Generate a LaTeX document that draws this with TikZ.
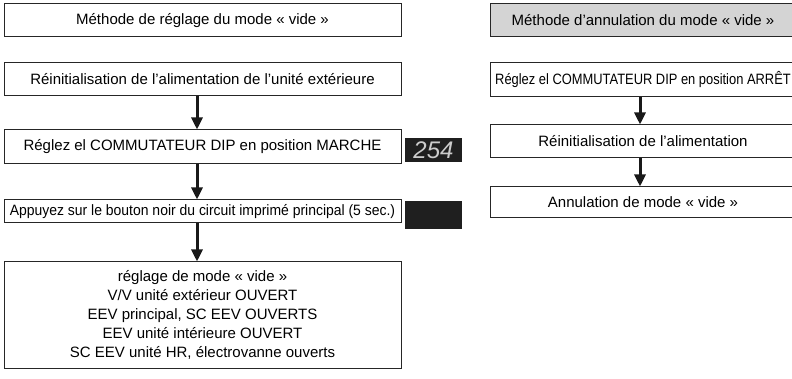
\documentclass[tikz,border=0pt]{standalone}
\usepackage{fontspec}
\setmainfont{Liberation Sans}
\usepackage{graphicx}
\usetikzlibrary{arrows.meta}

\begin{document}
\begin{tikzpicture}[x=1pt, y=-1pt,
    boite/.style={draw=black!85, line width=1pt, fill=white, minimum width=397pt, inner sep=2pt, font=\fontsize{15}{19}\selectfont},
    boited/.style={boite, minimum width=306pt},
    fleche/.style={-{Triangle[width=11pt,length=12pt]}, line width=3pt, black!90},
    ecran/.style={fill=black!88, minimum width=57pt, inner sep=0pt}]
  \useasboundingbox (0,0) rectangle (792,379);
  \clip (0,0) rectangle (792,379);
  % reglage du mode vide
  \node[boite, minimum height=33pt] (titre) at (202.5,20.5) {Méthode de réglage du mode « vide »};
  \node[boite, minimum height=33pt] (alim) at (202.5,79.5) {Réinitialisation de l’alimentation de l’unité extérieure};
  \node[boite, minimum height=34pt] (dipon) at (202.5,147) {Réglez el COMMUTATEUR DIP en position MARCHE};
  \node[boite, minimum height=23pt] (bouton) at (202.5,211.5) {\scalebox{0.93}[1]{Appuyez sur le bouton noir du circuit imprimé principal (5 sec.)}};
  \node[boite, minimum height=106pt, align=center] (mode) at (202.5,315) {réglage de mode « vide »\\V/V unité extérieur OUVERT\\EEV principal, SC EEV OUVERTS\\EEV unité intérieure OUVERT\\SC EEV unité HR, électrovanne ouverts};
  \node[ecran, minimum height=24pt, text height=17pt, text=black!20, font=\fontsize{24}{24}\selectfont\itshape] (aff) at (433.5,150) {254};
  \node[ecran, minimum height=28pt] (noir) at (433.5,215) {};
  \coordinate (gx) at (197,0);
  \draw[fleche] (alim.south -| gx) -- (dipon.north -| gx);
  \draw[fleche] (dipon.south -| gx) -- (bouton.north -| gx);
  \draw[fleche] (bouton.south -| gx) -- (mode.north -| gx);
  % annulation
  \node[boited, minimum height=33pt, fill=black!17] (titred) at (643,20.5) {Méthode d’annulation du mode « vide »};
  \node[boited, minimum height=34pt] (dipoff) at (643,80) {\scalebox{0.86}[1]{Réglez el COMMUTATEUR DIP en position ARRÊT}};
  \node[boited, minimum height=33pt] (alimd) at (643,141.5) {Réinitialisation de l’alimentation};
  \node[boited, minimum height=31pt] (annul) at (643,202.5) {Annulation de mode « vide »};
  \coordinate (dx) at (640,0);
  \draw[fleche] (dipoff.south -| dx) -- (alimd.north -| dx);
  \draw[fleche] (alimd.south -| dx) -- (annul.north -| dx);
\end{tikzpicture}
\end{document}
